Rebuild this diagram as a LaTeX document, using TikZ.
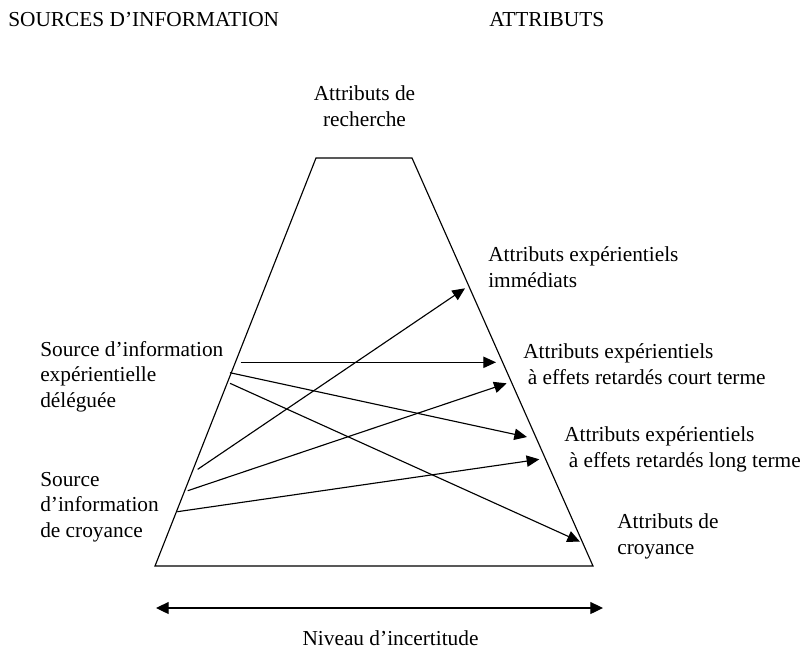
\documentclass[tikz,border=0pt]{standalone}
\usepackage{fontspec}
\setmainfont{Liberation Serif}
\usetikzlibrary{arrows.meta}
% several lines set flush left, first baseline on the node's base
\newcommand\leftlines[1]{\begin{tabular}[t]{@{}l@{}}#1\end{tabular}}
\newcommand\midlines[1]{\begin{tabular}[t]{@{}c@{}}#1\end{tabular}}
\begin{document}
\begin{tikzpicture}[x=0.75pt,y=-0.75pt,
  lbl/.style={anchor=base west,inner sep=0pt,font=\fontsize{16}{19.3}\selectfont},
  edgeline/.style={line width=0.85pt,line join=miter},
  link/.style={line width=0.85pt,-{Triangle[length=9.5pt,width=8.5pt]}},
  scale arrow/.style={line width=0.85pt,{Triangle[length=9.5pt,width=9pt]}-{Triangle[length=9.5pt,width=9pt]}}]
\useasboundingbox (0,0) rectangle (805,651);

% headings
\node[lbl] (src) at (8,26) {SOURCES D’INFORMATION};
\node[lbl] (attr) at (489,26) {ATTRIBUTS};

% the trapezoid
\coordinate (tl) at (316,158);
\coordinate (tr) at (412,158);
\coordinate (br) at (593,566);
\coordinate (bl) at (155,566);
\draw[edgeline] (tl) -- (tr) -- (br) -- (bl) -- cycle;

% attribute labels
\node[lbl,anchor=base] (rech) at (364.5,100.5) {\midlines{Attributs de\\recherche}};
\node[lbl] (imm) at (488,261.7) {\leftlines{Attributs expérientiels\\immédiats}};
\node[lbl] (court) at (523,358.3) {\leftlines{Attributs expérientiels\\\hspace*{3.5pt}à effets retardés court terme}};
\node[lbl] (long) at (564,441.7) {\leftlines{Attributs expérientiels\\\hspace*{3.5pt}à effets retardés long terme}};
\node[lbl] (acroy) at (617,528.3) {\leftlines{Attributs de\\croyance}};

% source labels
\node[lbl] (deleg) at (40,356) {\leftlines{Source d’information\\expérientielle\\déléguée}};
\node[lbl] (croy) at (40,486) {\leftlines{Source\\d’information\\de croyance}};

% arrow ends
\coordinate (c1) at (197.7,469.3);
\coordinate (c2) at (187.7,490.7);
\coordinate (c3) at (177.3,511.7);
\coordinate (d1) at (240.7,362.3);
\coordinate (d2) at (230,372.7);
\coordinate (d3) at (230,383.3);
\coordinate (t1) at (465,288.3);
\coordinate (t2) at (506.7,383.3);
\coordinate (t3) at (539.3,459.3);
\coordinate (t4) at (496,362.3);
\coordinate (t5) at (527,437);
\coordinate (t6) at (580,541.7);

\draw[link] (c1) -- (t1);
\draw[link] (c2) -- (t2);
\draw[link] (c3) -- (t3);
\draw[link] (d1) -- (t4);
\draw[link] (d2) -- (t5);
\draw[link] (d3) -- (t6);

% uncertainty scale
\coordinate (sl) at (156,608);
\coordinate (sr) at (603,608);
\draw[scale arrow] (sl) -- (sr);
\node[lbl,anchor=base] (niv) at (390.5,645) {Niveau d’incertitude};
\end{tikzpicture}
\end{document}
